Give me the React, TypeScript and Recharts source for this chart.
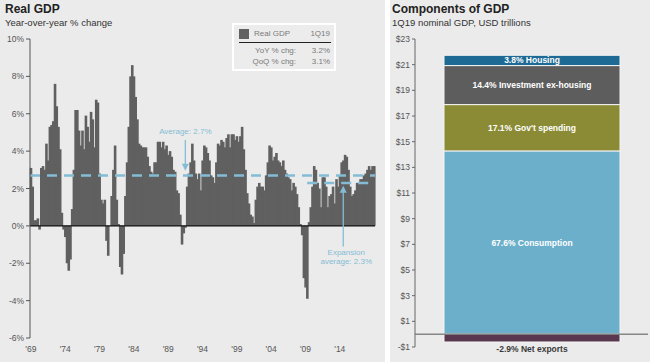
import React from "react"
import { BarChart, Bar, XAxis, YAxis, ReferenceLine, LabelList } from "recharts"

const FONT = '"Liberation Sans", Arial, sans-serif'

// Real GDP, year-over-year % change, quarterly from 1Q69 to 1Q19
const yoyValues = [
  3.1, 2.1, 0.3, 0.3, // 1969
  0.4, -0.2, 3.1, 3.2,
  3.0, 4.4, 3.5, 5.3,
  5.4, 5.6, 7.6, 6.4,
  5.3, 4.1, 0.7, -0.2,
  -0.6, -2.0, -2.4, -1.8, // 1974
  0.9, 3.0, 6.2, 6.2,
  5.1, 4.3, 5.1, 4.1,
  5.9, 5.3, 4.5, 6.1,
  5.7, 4.2, 6.75, 6.6,
  2.8, 1.4, 1.2, 1.4, // 1979
  -0.8, -1.6, 0.0, 1.6,
  3.0, 4.3, 1.4, 0.1,
  -2.2, -2.6, -1.5, 1.6,
  3.4, 5.3, 8.0, 8.6,
  8.0, 6.9, 5.7, 4.4, // 1984
  4.3, 4.2, 4.2, 4.2,
  3.7, 3.2, 2.9, 2.8,
  3.4, 3.4, 4.5, 4.5,
  4.2, 4.5, 4.1, 4.3,
  3.8, 4.0, 3.7, 3.0, // 1989
  2.9, 1.9, 1.75, 0.6,
  -1.0, -0.4, -0.1, 2.1,
  2.8, 3.4, 4.4, 3.5,
  2.8, 2.5, 2.8, 1.9,
  3.5, 4.3, 4.2, 3.9, // 1994
  3.5, 2.7, 2.6, 2.3,
  3.4, 4.4, 4.3, 4.6,
  4.5, 4.2, 4.7, 4.9,
  4.2, 4.9, 4.9, 4.6,
  4.8, 4.5, 4.8, 5.3, // 1999
  4.1, 3.0, 1.75, 1.2,
  0.6, 0.5, 0.15, 1.4,
  2.1, 2.3, 2.1, 2.1,
  1.9, 2.7, 3.4, 4.3,
  4.2, 3.5, 3.7, 3.9, // 2004
  3.5, 3.4, 3.2, 3.5,
  3.0, 2.8, 2.6, 2.5,
  1.9, 2.3, 2.1, 1.7,
  1.0, 0.1, -0.5, -2.8,
  -3.3, -3.9, 0.2, 1.0, // 2009
  2.1, 3.2, 3.0, 2.3,
  2.0, 1.0, 2.6, 2.6,
  2.1, 1.0, 1.6, 1.7,
  2.1, 1.2, 2.5, 2.1,
  2.7, 3.4, 3.5, 3.8, // 2014
  3.7, 3.0, 2.1, 1.6,
  1.7, 1.9, 2.3, 2.3,
  2.5, 2.5, 2.7, 2.8,
  3.0, 3.2, 3.0, 3.2,
  3.2, // 1Q19
]

const firstYear = 1969
const quarterLabels = yoyValues.map((_, i) => {
  const yy = String((firstYear + Math.floor(i / 4)) % 100).padStart(2, "0")
  return `${(i % 4) + 1}Q${yy}`
})
const gdpData = quarterLabels.map((q, i) => ({ i, q, yoy: yoyValues[i] }))
const qi = (label: string) => quarterLabels.indexOf(label)
// a year label every five years, '69 ... '14
const xTicks = quarterLabels.map((_, i) => i).filter((i) => i % 20 === 0 && i < 200)

const leftTicks = [-6, -4, -2, 0, 2, 4, 6, 8, 10]
const averageAll = 2.7
const averageExpansion = 2.3
const expansionStart = "2Q09"
const lastQuarter = "1Q19"

// Components of GDP, 1Q19, USD trillions
const componentKeys = ["consumption", "gov", "invest", "housing", "netExports"]
const componentValues = [14.28, 3.61, 3.04, 0.8, -0.61]
const componentLabels = [
  "67.6% Consumption",
  "17.1% Gov't spending",
  "14.4% Investment ex-housing",
  "3.8% Housing",
  "-2.9% Net exports",
]
const componentColors = ["#6cafcb", "#8b8b36", "#5d5d5d", "#1d6a94", "#58374f"]
const rightTicks = [-1, 1, 3, 5, 7, 9, 11, 13, 15, 17, 19, 21, 23]

const componentRow: Record<string, string | number> = { name: "1Q19" }
componentKeys.forEach((k, i) => (componentRow[k] = componentValues[i]))
const componentData = [componentRow]

const ACCENT = "#84bcd5"

function arrowShape(lines: string[], textBelow: boolean) {
  return (props: any) => {
    const { x1, y1, x2, y2 } = props
    const dir = y2 > y1 ? 1 : -1
    const textY = textBelow ? Math.max(y1, y2) + 9 : Math.min(y1, y2) - 6
    return (
      <g>
        <line x1={x1} y1={y1} x2={x2} y2={y2 - dir * 5} stroke={ACCENT} strokeWidth={1.3} />
        <polygon
          points={`${x2 - 3.5},${y2 - dir * 7} ${x2 + 3.5},${y2 - dir * 7} ${x2},${y2}`}
          fill={ACCENT}
        />
        {lines.map((t, i) => (
          <text
            key={t}
            x={x1 + (textBelow ? 3 : 0)}
            y={textY + (textBelow ? i * 9 : -(lines.length - 1 - i) * 9)}
            textAnchor="middle"
            fontSize={8}
            fill={ACCENT}
            fontFamily={FONT}
          >
            {t}
          </text>
        ))}
      </g>
    )
  }
}

// year label drawn under the plot, at the x of its quarter
function yearLabel(text: string) {
  return (props: any) => {
    const { x1, y1, y2 } = props
    return (
      <text x={x1} y={Math.max(y1, y2) + 14} textAnchor="middle" fontSize={8.5} fill="#555" fontFamily={FONT}>
        {text}
      </text>
    )
  }
}

// solid bars: widen each a little so neighbours overlap and no seams show
function solidBar(props: any) {
  const { x, y, width, height, fill } = props
  const top = Math.min(y, y + height)
  return <rect x={x - 0.3} y={top} width={width + 0.6} height={Math.abs(height)} fill={fill} />
}

function segmentLabel(i: number) {
  return (props: any) => {
    const { x, y, width, height } = props
    const top = Math.min(y, y + height)
    const h = Math.abs(height)
    const below = componentValues[i] < 0
    return (
      <text
        x={x + width / 2}
        y={below ? top + h + 10 : top + h / 2 + 3}
        textAnchor="middle"
        fontSize={8.5}
        fontWeight="bold"
        fill={below ? "#3a3a3a" : "#fff"}
        fontFamily={FONT}
      >
        {componentLabels[i]}
      </text>
    )
  }
}

const legendText = { fontSize: 8, color: "#7a7a7a", fontFamily: FONT }

export default function App() {
  return (
    <div style={{ position: "absolute", left: 0, top: 0, width: 650, height: 364, background: "#fff", fontFamily: FONT }}>
      <div style={{ position: "absolute", left: 0, top: 0, width: 385, height: 362, background: "#ebebeb" }}>
        <div style={{ position: "absolute", left: 0, top: 0 }}>
          <BarChart width={385} height={362} data={gdpData} barCategoryGap={0} margin={{ top: 39, right: 10, left: 0, bottom: 0 }}>
            <XAxis
              dataKey="i"
              type="number"
              domain={[-0.5, yoyValues.length - 0.5]}
              height={24}
              axisLine={false}
              tickLine={false}
              tick={false}
            />
            <YAxis
              width={30}
              domain={[-6, 10]}
              ticks={leftTicks}
              tickSize={4}
              stroke="#555"
              tick={{ fontSize: 8.5, fill: "#555", fontFamily: FONT }}
              tickFormatter={(v: number) => `${v}%`}
            />
            <Bar dataKey="yoy" fill="#606060" shape={solidBar} isAnimationActive={false} />
            <ReferenceLine y={0} stroke="#111" strokeWidth={1.2} />
            <ReferenceLine y={averageAll} stroke={ACCENT} strokeWidth={2.5} strokeDasharray="10 7" />
            <ReferenceLine
              segment={[{ x: qi(expansionStart), y: averageExpansion }, { x: qi(lastQuarter) + 0.5, y: averageExpansion }]}
              stroke={ACCENT}
              strokeWidth={2.5}
              strokeDasharray="10 7"
            />
            <ReferenceLine
              segment={[{ x: qi("3Q91"), y: 4.6 }, { x: qi("3Q91"), y: 2.95 }]}
              shape={arrowShape(["Average: 2.7%"], false)}
            />
            <ReferenceLine
              segment={[{ x: qi("3Q14"), y: -1.1 }, { x: qi("3Q14"), y: 2.15 }]}
              shape={arrowShape(["Expansion", "average: 2.3%"], true)}
            />
            {xTicks.map((i) => (
              <ReferenceLine
                key={i}
                x={i}
                ifOverflow="visible"
                shape={yearLabel(`'${quarterLabels[i].slice(2)}`)}
              />
            ))}
          </BarChart>
        </div>

        <div style={{ position: "absolute", left: 5, top: 2, fontSize: 12, fontWeight: "bold", color: "#222" }}>Real GDP</div>
        <div style={{ position: "absolute", left: 5, top: 17, fontSize: 9.5, color: "#333" }}>Year-over-year % change</div>

        <div style={{ position: "absolute", left: 232, top: 23, width: 100, height: 44, border: "2px solid #fff", background: "#ececec" }}>
          <div style={{ position: "absolute", left: 5, top: 4, width: 10, height: 10, background: "#616161" }} />
          <div style={{ ...legendText, position: "absolute", left: 20, top: 4 }}>Real GDP</div>
          <div style={{ ...legendText, position: "absolute", right: 4, top: 4 }}>1Q19</div>
          <div style={{ position: "absolute", left: 5, right: 3, top: 17, height: 1, background: "#222" }} />
          <div style={{ ...legendText, position: "absolute", right: 38, top: 21 }}>YoY % chg:</div>
          <div style={{ ...legendText, position: "absolute", right: 4, top: 21 }}>3.2%</div>
          <div style={{ ...legendText, position: "absolute", right: 38, top: 32 }}>QoQ % chg:</div>
          <div style={{ ...legendText, position: "absolute", right: 4, top: 32 }}>3.1%</div>
        </div>
      </div>

      <div style={{ position: "absolute", left: 390, top: 0, width: 260, height: 362, background: "#ebebeb" }}>
        <div style={{ position: "absolute", left: 0, top: 0 }}>
          <BarChart
            width={260}
            height={362}
            data={componentData}
            stackOffset="sign"
            margin={{ top: 39, right: 2, left: 0, bottom: 15 }}
          >
            <XAxis dataKey="name" hide />
            <YAxis
              width={25}
              domain={[-1, 23]}
              ticks={rightTicks}
              tickSize={3}
              stroke="#666"
              tick={{ fontSize: 8.5, fill: "#555", fontFamily: FONT }}
              tickFormatter={(v: number) => (v < 0 ? `-$${-v}` : `$${v}`)}
            />
            {componentKeys.map((k, i) => (
              <Bar
                key={k}
                dataKey={k}
                stackId="gdp"
                barSize={176}
                fill={componentColors[i]}
                stroke="#f4f4f4"
                strokeWidth={1}
                isAnimationActive={false}
              >
                <LabelList dataKey={k} content={segmentLabel(i)} />
              </Bar>
            ))}
            <ReferenceLine y={0} stroke="#555" strokeWidth={1} />
          </BarChart>
        </div>

        <div style={{ position: "absolute", left: 2, top: 2, fontSize: 12, fontWeight: "bold", color: "#222" }}>Components of GDP</div>
        <div style={{ position: "absolute", left: 2, top: 17, fontSize: 9.5, color: "#333" }}>1Q19 nominal GDP, USD trillions</div>
      </div>
    </div>
  )
}
